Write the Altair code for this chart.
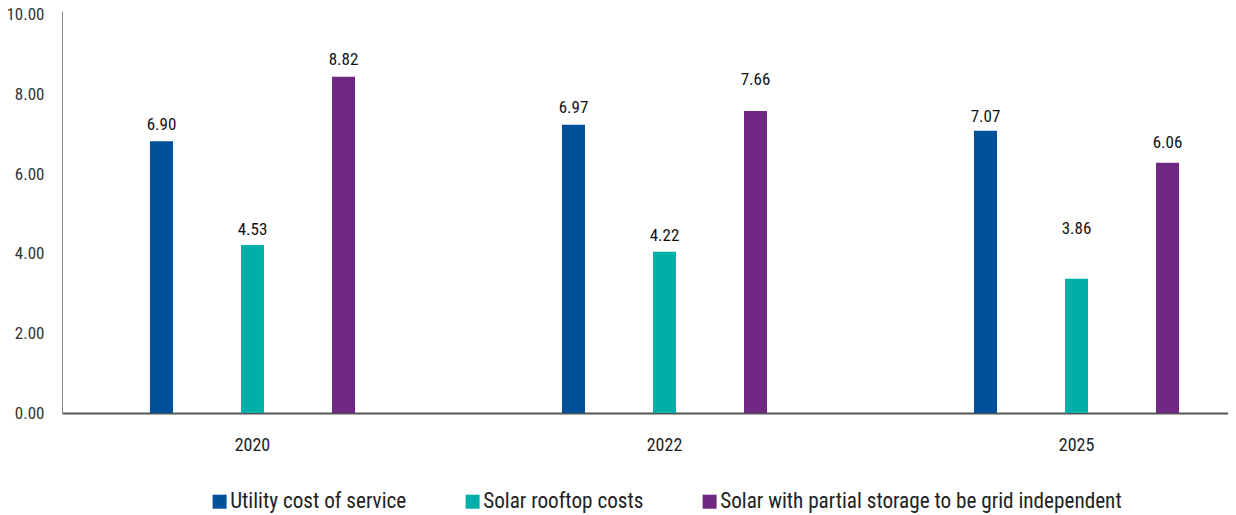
import altair as alt
import pandas as pd

years = ["2020", "2022", "2025"]
series = ["Utility cost of service", "Solar rooftop costs",
          "Solar with partial storage to be grid independent"]
bar_values = [
    [6.83, 4.22, 8.45],
    [7.24, 4.05, 7.59],
    [7.09, 3.37, 6.29],
]
label_texts = [
    ["6.90", "4.53", "8.82"],
    ["6.97", "4.22", "7.66"],
    ["7.07", "3.86", "6.06"],
]
label_at = [
    [7.11, 4.48, 8.74],
    [7.53, 4.31, 8.23],
    [7.32, 4.50, 6.67],
]
colors = ["#00509A", "#00AFA9", "#6E2882"]
y_ticks = [0, 2, 4, 6, 8, 10]

rows = []
for i, yr in enumerate(years):
    for j, s in enumerate(series):
        rows.append({"year": yr, "series": s, "order": j,
                     "value": bar_values[i][j],
                     "label": label_texts[i][j],
                     "label_at": label_at[i][j]})
df = pd.DataFrame(rows)

FONT = "Roboto Condensed"

x_enc = alt.X("year:N", sort=years, title=None,
              scale=alt.Scale(paddingInner=0.3, paddingOuter=0.065, align=0.864),
              axis=alt.Axis(labelAngle=0, ticks=False, labelPadding=23,
                            labelFontSize=18, labelFont=FONT, labelColor="#222",
                            domainColor="#555", domainWidth=2, grid=False))
xo_enc = alt.XOffset("series:N", sort=series,
                     scale=alt.Scale(paddingInner=0.7473, paddingOuter=0.458))

bars = alt.Chart(df).mark_bar().encode(
    x=x_enc,
    xOffset=xo_enc,
    y=alt.Y("value:Q", title=None,
            scale=alt.Scale(domain=[0, 10.1], nice=False, zero=True),
            axis=alt.Axis(values=y_ticks, format=".2f", ticks=False, grid=False,
                          labelPadding=18, labelFontSize=17, labelFont=FONT,
                          labelColor="#333", domainColor="#888", domainWidth=1)),
    color=alt.Color("series:N", sort=series,
                    scale=alt.Scale(domain=series, range=colors),
                    legend=alt.Legend(title=None, orient="none", direction="horizontal",
                                      legendX=147, legendY=480, padding=0,
                                      symbolType="square", symbolSize=196,
                                      symbolStrokeWidth=0, labelOffset=0,
                                      columnPadding=55, labelFontSize=21.2,
                                      labelFont=FONT, labelColor="#222",
                                      labelLimit=600)),
)

labels = alt.Chart(df).mark_text(baseline="alphabetic", align="center",
                                 fontSize=17, font=FONT, color="#111").encode(
    x=alt.X("year:N", sort=years),
    xOffset=alt.XOffset("series:N", sort=series),
    y=alt.Y("label_at:Q"),
    text="label:N",
)

chart = alt.layer(bars, labels).properties(
    width=1166, height=402,
    autosize=alt.AutoSizeParams(type="none"),
    padding={"left": 54, "top": 3, "right": 0, "bottom": 104},
).configure_view(stroke=None)

chart.save("out.html", embed_options={"renderer": "svg", "actions": False})
